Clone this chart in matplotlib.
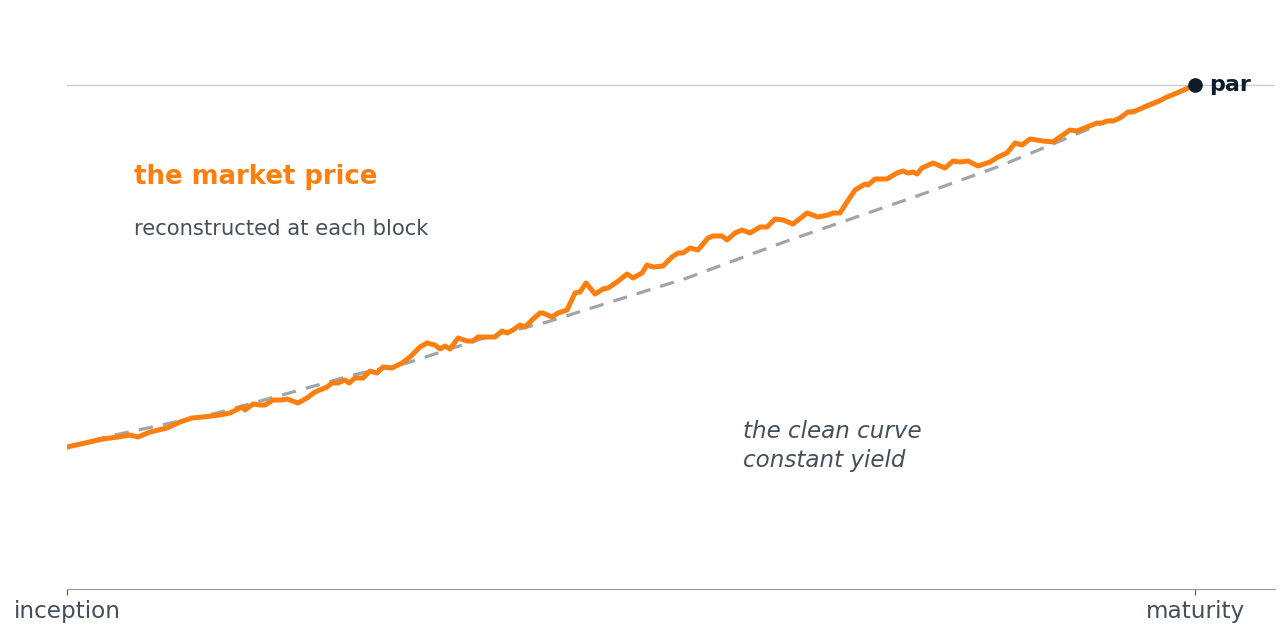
import numpy as np
import matplotlib.pyplot as plt

# block index since inception (maturity at 1128) and price in % of par
blocks = np.array([
    0, 36, 51, 63, 71, 83, 100, 113, 125, 136, 153, 163, 175, 178, 186, 193,
    198, 206, 215, 220, 231, 240, 248, 260, 265, 271, 278, 282, 288, 296, 303,
    310, 316, 325, 335, 343, 353, 360, 368, 373, 378, 383, 391, 400, 406, 411,
    420, 428, 435, 440, 446, 453, 458, 466, 473, 476, 485, 491, 500, 508, 513,
    519, 528, 536, 541, 550, 555, 560, 566, 575, 580, 586, 596, 605, 611, 616,
    623, 631, 641, 646, 655, 660, 668, 675, 683, 693, 700, 708, 716, 726, 740,
    751, 761, 766, 773, 780, 788, 798, 801, 808, 820, 830, 836, 841, 846, 850,
    855, 866, 878, 886, 893, 901, 911, 923, 931, 940, 948, 955, 963, 976, 986,
    993, 1003, 1010, 1020, 1030, 1035, 1040, 1046, 1053, 1061, 1066, 1080,
    1090, 1100, 1110, 1121, 1128,
])
market = np.array([
    81.90, 82.30, 82.40, 82.50, 82.40, 82.65, 82.85, 83.15, 83.35, 83.40, 83.50,
    83.60, 83.90, 83.75, 84.05, 84.00, 84.00, 84.25, 84.25, 84.30, 84.10, 84.35,
    84.65, 84.90, 85.10, 85.10, 85.25, 85.10, 85.35, 85.35, 85.70, 85.60, 85.90,
    85.85, 86.10, 86.40, 86.90, 87.10, 87.00, 86.80, 86.95, 86.80, 87.35, 87.20,
    87.20, 87.40, 87.40, 87.40, 87.70, 87.60, 87.75, 88.00, 87.90, 88.30, 88.60,
    88.60, 88.40, 88.60, 88.75, 89.60, 89.65, 90.10, 89.55, 89.80, 89.85, 90.15,
    90.35, 90.55, 90.35, 90.60, 91.00, 90.90, 90.95, 91.40, 91.60, 91.60, 91.85,
    91.75, 92.35, 92.45, 92.45, 92.25, 92.60, 92.75, 92.60, 92.90, 92.90, 93.30,
    93.25, 93.05, 93.60, 93.40, 93.50, 93.60, 93.60, 94.15, 94.75, 95.05, 95.00,
    95.30, 95.30, 95.60, 95.70, 95.60, 95.65, 95.55, 95.85, 96.10, 95.85, 96.20,
    96.15, 96.20, 95.95, 96.15, 96.40, 96.60, 97.10, 97.00, 97.30, 97.20, 97.15,
    97.40, 97.75, 97.70, 97.90, 98.10, 98.10, 98.20, 98.20, 98.35, 98.65, 98.65,
    98.95, 99.15, 99.40, 99.60, 99.85, 100.00,
])

clean_blocks = [0, 43, 90, 150, 233, 286, 340, 420, 480, 566, 620, 720, 850,
                933, 986, 1036, 1128]
clean_price = [81.90, 82.45, 82.95, 83.60, 84.75, 85.50, 86.10, 87.40, 88.15,
               89.50, 90.35, 92.20, 94.45, 95.95, 97.05, 98.10, 100.00]

maturity = 1128
par = 100.0
tick_pos = [0, maturity]
tick_labels = ["inception", "maturity"]

orange = "#ff7f0e"
grey_txt = "#45505b"
navy = "#0d1b2a"

fig = plt.figure(figsize=(12.87, 6.37), dpi=100)
ax = fig.add_axes([67 / 1287, 48 / 637, (1275 - 67) / 1287, (589 - 20) / 637])

ax.axhline(par, color="#cccccc", lw=1, zorder=1)
ax.plot(clean_blocks, clean_price, color="#9ea5ad", lw=2.3, ls=(0, (4.5, 3.2)),
        zorder=2)
ax.plot(blocks, market, color=orange, lw=3.6, solid_joinstyle="round", zorder=3)
ax.plot([maturity], [par], "o", color=navy, ms=9.5, zorder=4)

ax.text(maturity + 14, par, "par", color=navy, fontsize=16, fontweight="bold",
        va="center", ha="left")
ax.text(67, 95.4, "the market price", color=orange, fontsize=18.7,
        fontweight="bold", va="center")
ax.text(67, 92.8, "reconstructed at each block", color=grey_txt, fontsize=15.2,
        va="center")
ax.text(676, 81.95, "the clean curve\nconstant yield", color=grey_txt,
        fontsize=16.6, style="italic", va="center", linespacing=1.3)

ax.set_xlim(0, (1275 - 67))
ax.set_ylim(100 - 0.05 * (589 - 85), 100 + 0.05 * (85 - 20))
ax.set_xticks(tick_pos)
ax.set_xticklabels(tick_labels, fontsize=16.7, color=grey_txt)
ax.tick_params(axis="x", length=4, color="#555555", pad=4)
ax.set_yticks([])
for s in ["top", "right", "left"]:
    ax.spines[s].set_visible(False)
ax.spines["bottom"].set_color("#8f979f")
ax.set_facecolor("white")

fig.savefig("out.png", dpi=100, facecolor="white")
